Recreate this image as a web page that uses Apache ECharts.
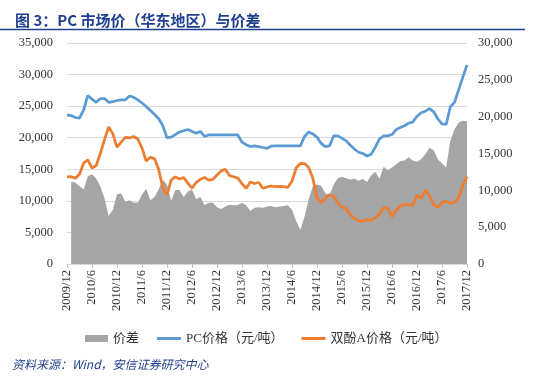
<!DOCTYPE html>
<html>
<head>
<meta charset="utf-8">
<script src="https://cdn.jsdelivr.net/npm/echarts@6/dist/echarts.min.js"></script>
<style>
  html, body { margin: 0; padding: 0; background: #fff; }
  #chart { width: 535px; height: 377px; }
</style>
</head>
<body>
<div id="chart"></div>
<script>
// monthly categories 2009/12 .. 2017/12
const months = []
for (let y = 2009, m = 12; y < 2017 || (y === 2017 && m <= 12); ) {
  months.push(y + '/' + m)
  m++
  if (m > 12) { m = 1; y++ }
}

// 价差 (left axis), first month empty
const spread = [
  null, 13000, 12900, 12300, 11800, 13900, 14200, 13500, 12300, 10400, 7600, 8600,
  11000, 11200, 9870, 10100, 9700, 9700, 11000, 11900, 10100, 10600, 11800, 13400,
  12500, 10000, 11700, 11700, 10600, 11500, 11800, 10300, 10600, 9300, 9700, 9700,
  9000, 8700, 9100, 9400, 9300, 9350, 9700, 9300, 8400, 8900, 9000, 8900,
  9100, 9200, 9000, 9100, 9200, 9300, 8600, 6800, 5400, 7500, 10200, 12300,
  12600, 12400, 11200, 10900, 12600, 13600, 13830, 13600, 13400, 13500, 13200, 13500,
  13000, 14000, 14600, 13500, 15400, 14800, 15300, 15800, 16300, 16400, 16900, 16400,
  16200, 16600, 17400, 18400, 18000, 16600, 15900, 15300, 19500, 21300, 22400, 22700,
  22600
]

// PC价格 (left axis)
const pcPrice = [
  23600, 23500, 23200, 23100, 24400, 26700, 26100, 25600, 26200, 26200, 25600, 25700,
  25900, 26000, 26000, 26600, 26400, 26000, 25500, 24950, 24300, 23700, 23000, 21900,
  20000, 20100, 20500, 20900, 21100, 21300, 21000, 20700, 21000, 20200, 20430, 20430,
  20430, 20430, 20430, 20430, 20430, 20430, 19300, 18900, 18600, 18700, 18600, 18450,
  18320, 18650, 18690, 18690, 18690, 18690, 18690, 18690, 18700, 20200, 20900, 20600,
  20100, 19100, 18600, 18690, 20300, 20300, 19900, 19500, 18800, 18200, 17700, 17500,
  17100, 17400, 18500, 19800, 20300, 20300, 20500, 21300, 21600, 21900, 22300, 22500,
  23400, 23950, 24200, 24600, 24100, 23000, 22200, 22100, 24900, 25600, 27600, 29600,
  31500
]

// 双酚A价格 (right axis)
const bpaPrice = [
  11830, 11850, 11660, 12170, 13710, 14140, 13030, 13370, 15000, 16890, 18600, 17660,
  15860, 16540, 17200, 17110, 17310, 16970, 15770, 13970, 14490, 14310, 12860, 10290,
  9430, 11400, 11830, 11530, 11740, 10970, 10290, 11060, 11490, 11740, 11400, 11490,
  12090, 12640, 12860, 12000, 11850, 11660, 10890, 10290, 11140, 10930, 11060, 10290,
  10460, 10590, 10500, 10540, 10500, 10410, 11230, 13030, 13670, 13630, 13110, 11630,
  9000, 8310, 8960, 9390, 9170, 8310, 7710, 7540, 6690, 6170, 5870, 5790,
  6020, 5970, 6260, 6770, 7630, 7630, 6430, 7290, 7890, 8060, 8060, 7970,
  9340, 8910, 10030, 9260, 8060, 7710, 8310, 8570, 8230, 8360, 9000, 10710,
  11850
]

const seriesNames = ['价差', 'PC价格（元/吨）', '双酚A价格（元/吨）']

const serif = '"Liberation Serif", "Noto Sans CJK SC", serif'
const fmt = v => String(v).replace(/\B(?=(\d{3})+(?!\d))/g, ',')
const legendText = { fontSize: 13, color: '#333', fontFamily: serif }

const chart = echarts.init(document.getElementById('chart'))
chart.setOption({
  animation: false,
  backgroundColor: '#fff',
  title: {
    text: '图 3：PC 市场价（华东地区）与价差',
    left: 10,
    top: 8,
    textStyle: {
      color: '#1f3f8f',
      fontSize: 15,
      fontWeight: 'bold',
      fontFamily: '"Noto Sans CJK SC", sans-serif'
    }
  },
  graphic: [
    {
      type: 'line',
      shape: { x1: 0, y1: 29.5, x2: 525, y2: 29.5 },
      style: { stroke: '#1f3f8f', lineWidth: 1.5 }
    },
    {
      type: 'text',
      left: 12,
      top: 358,
      style: {
        text: '资料来源：Wind，安信证券研究中心',
        fill: '#1f3f8f',
        fontSize: 12,
        fontStyle: 'italic',
        fontFamily: '"Noto Sans CJK SC", sans-serif'
      }
    }
  ],
  legend: [
    {
      left: 80,
      top: 327,
      itemWidth: 23,
      itemHeight: 7,
      icon: 'rect',
      textStyle: legendText,
      data: [seriesNames[0]]
    },
    {
      left: 152,
      top: 327,
      itemGap: 18,
      itemWidth: 24,
      itemHeight: 3,
      icon: 'rect',
      textStyle: legendText,
      data: [seriesNames[1], seriesNames[2]]
    }
  ],
  grid: { left: 67, right: 68, top: 43, bottom: 113 },
  xAxis: {
    type: 'category',
    data: months,
    boundaryGap: false,
    axisLine: { lineStyle: { color: '#d9d9d9' } },
    axisTick: { interval: 5, length: 4, lineStyle: { color: '#bfbfbf' } },
    axisLabel: {
      interval: 5,
      rotate: 90,
      color: '#333',
      fontSize: 12.5,
      fontFamily: serif,
      margin: 6
    }
  },
  yAxis: [
    {
      type: 'value',
      min: 0,
      max: 35000,
      interval: 5000,
      axisLine: { show: false },
      axisTick: { show: false },
      splitLine: { lineStyle: { color: '#d9d9d9' } },
      axisLabel: { color: '#333', fontSize: 12.5, fontFamily: serif, margin: 14, formatter: fmt }
    },
    {
      type: 'value',
      min: 0,
      max: 30000,
      interval: 5000,
      axisLine: { show: false },
      axisTick: { show: false },
      splitLine: { show: false },
      axisLabel: { color: '#333', fontSize: 12.5, fontFamily: serif, margin: 11, formatter: fmt }
    }
  ],
  series: [
    {
      name: seriesNames[0],
      type: 'line',
      data: spread,
      yAxisIndex: 0,
      symbol: 'none',
      color: '#a5a5a5',
      lineStyle: { width: 0 },
      areaStyle: { color: '#a5a5a5', opacity: 1 }
    },
    {
      name: seriesNames[1],
      type: 'line',
      data: pcPrice,
      yAxisIndex: 0,
      symbol: 'none',
      color: '#5b9bd5',
      lineStyle: { width: 2.75, color: '#5b9bd5' }
    },
    {
      name: seriesNames[2],
      type: 'line',
      data: bpaPrice,
      yAxisIndex: 1,
      symbol: 'none',
      color: '#ed7d31',
      lineStyle: { width: 2.75, color: '#ed7d31' }
    }
  ]
})
</script>
</body>
</html>
